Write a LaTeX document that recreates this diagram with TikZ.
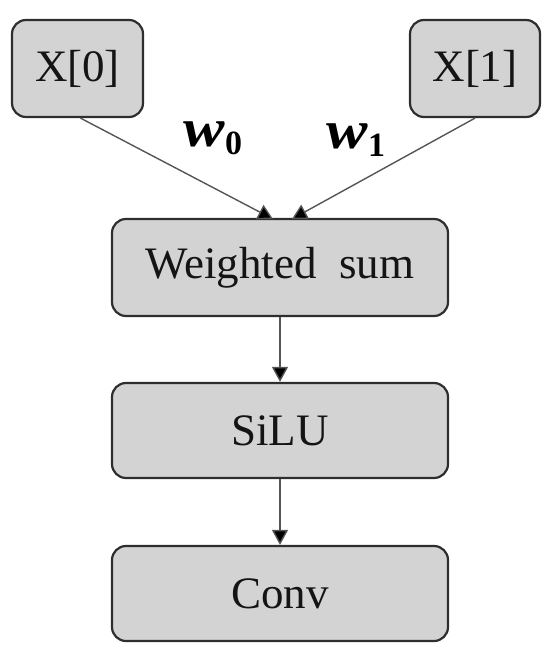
\documentclass[tikz,border=0pt]{standalone}
\usepackage{fontspec}
\setmainfont{Liberation Serif}
\usetikzlibrary{arrows.meta}
\definecolor{boxfill}{HTML}{D3D3D3}
\definecolor{boxline}{HTML}{2E2E2E}
\definecolor{arrline}{HTML}{555555}
\tikzset{
  blk/.style={draw=boxline, line width=2.2pt, fill=boxfill, rounded corners=14pt,
    inner sep=0pt, font=\fontsize{45}{50}\selectfont, text=black!92},
  conn/.style={draw=arrline, line width=1.4pt, -{Triangle[width=16pt,length=15pt,fill=black]}},
  wlab/.style={inner sep=0pt, text=black}
}
\begin{document}
\begin{tikzpicture}[x=1pt,y=-1pt]
\useasboundingbox (0,0) rectangle (550,658);
\node[blk, minimum width=131pt, minimum height=97pt] (x0) at (77.5,68.5) {X[0]};
\node[blk, minimum width=130pt, minimum height=97pt] (x1) at (475,68.5) {X[1]};
\node[blk, minimum width=336pt, minimum height=97pt] (ws) at (280,267.5) {Weighted\ \ sum};
\node[blk, minimum width=336pt, minimum height=95pt] (silu) at (280,430.5) {SiLU};
\node[blk, minimum width=336pt, minimum height=95pt] (conv) at (280,593.5) {Conv};
\coordinate (ws0) at (273,219);
\coordinate (ws1) at (292,219);
\draw[conn] ([xshift=3pt]x0.south) -- (ws0);
\draw[conn] (x1.south) -- (ws1);
\draw[conn] (ws.south) -- (silu.north);
\draw[conn] (silu.south) -- (conv.north);
\node[wlab] (w0) at (213,138) {\scalebox{1.15}[1]{\fontsize{54}{54}\selectfont\bfseries\itshape w}\raisebox{-8pt}{\fontsize{34}{34}\selectfont\bfseries 0}};
\node[wlab] (w1) at (356,140) {\scalebox{1.15}[1]{\fontsize{54}{54}\selectfont\bfseries\itshape w}\raisebox{-8pt}{\fontsize{34}{34}\selectfont\bfseries 1}};
\end{tikzpicture}
\end{document}
